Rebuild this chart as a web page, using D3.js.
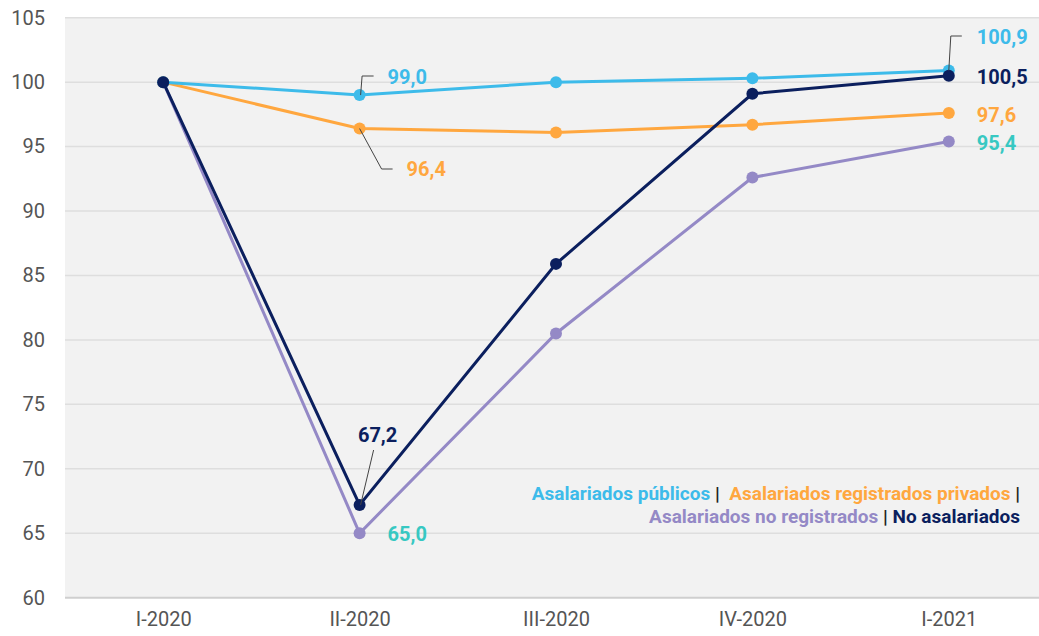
<!DOCTYPE html>
<html><head><meta charset="utf-8">
<script src="https://cdn.jsdelivr.net/npm/d3@7/dist/d3.min.js"></script>
<style>body{margin:0;background:#fff;font-family:Roboto,sans-serif}</style>
</head><body><svg id="c" width="1039" height="636"></svg>
<script>
const categories = ["I-2020","II-2020","III-2020","IV-2020","I-2021"];
const publicos = [100, 99.0, 100.0, 100.3, 100.9];
const privados = [100, 96.4, 96.1, 96.7, 97.6];
const noRegistrados = [100, 65.0, 80.5, 92.6, 95.4];
const noAsalariados = [100, 67.2, 85.9, 99.1, 100.5];
const yTicks = [60,65,70,75,80,85,90,95,100,105];

const series = [
  {name:"Asalariados no registrados", values:noRegistrados, color:"#9489c6"},
  {name:"Asalariados registrados privados", values:privados, color:"#ffa73f"},
  {name:"Asalariados públicos", values:publicos, color:"#3dbbea"},
  {name:"No asalariados", values:noAsalariados, color:"#0b1f5e"}
];

const svg = d3.select("#c");
const L=65, R=1047, T=17.7, B=597.7;
const x = d3.scalePoint().domain(categories).range([L,R]).padding(0.5);
const y = d3.scaleLinear().domain([60,105]).range([B,T]);

svg.append("rect").attr("x",L).attr("y",T).attr("width",R-L).attr("height",B-T).attr("fill","#f2f2f2");

// grid
svg.append("g").selectAll("line").data(yTicks.filter(d=>d>60)).join("line")
  .attr("x1",L).attr("x2",R).attr("y1",d=>y(d)).attr("y2",d=>y(d))
  .attr("stroke","#dedede").attr("stroke-width",1.5);
svg.append("line").attr("x1",L).attr("x2",R).attr("y1",y(60)).attr("y2",y(60))
  .attr("stroke","#cfcfcf").attr("stroke-width",2);

// y axis
const ya = svg.append("g").attr("transform",`translate(${L},0)`)
  .call(d3.axisLeft(y).tickValues(yTicks).tickSize(0).tickPadding(20));
ya.select(".domain").remove();
ya.selectAll("text").attr("font-family","Roboto").attr("font-size",20).attr("fill","#555");

// x axis
const xa = svg.append("g").attr("transform",`translate(0,${B})`)
  .call(d3.axisBottom(x).tickSize(0).tickPadding(14));
xa.select(".domain").remove();
xa.selectAll("text").attr("font-family","Roboto").attr("font-size",20).attr("fill","#555");

const line = d3.line().x((d,i)=>x(categories[i])).y(d=>y(d));
series.forEach(s=>{
  svg.append("path").datum(s.values).attr("d",line).attr("fill","none")
    .attr("stroke",s.color).attr("stroke-width",3);
  svg.append("g").selectAll("circle").data(s.values).join("circle")
    .attr("cx",(d,i)=>x(categories[i])).attr("cy",d=>y(d)).attr("r",6).attr("fill",s.color);
});

// labels
const fmt = v => d3.format(".1f")(v).replace(".",",");
const leader = (pts)=>svg.append("path").attr("d",d3.line()(pts)).attr("fill","none")
  .attr("stroke","#444").attr("stroke-width",1);
function label(v,tx,ty,color,anchor){
  svg.append("text").attr("x",tx).attr("y",ty).attr("dy","0.35em")
    .attr("text-anchor",anchor||"start").attr("font-family","Roboto").attr("font-weight","bold")
    .attr("font-size",20).attr("fill",color).text(fmt(v));
}
const x1=x(categories[1]), x4=x(categories[4]);
// 99,0
leader([[x1+1,y(publicos[1])],[x1+2.5,76],[x1+14,76]]);
label(publicos[1], x1+28, 77, "#3dbbea");
// 96,4
leader([[x1,y(privados[1])],[x1+22,169],[x1+33,169]]);
label(privados[1], x1+47, 169, "#ffa73f");
// 67,2
leader([[x1+1,y(noAsalariados[1])],[x1+14,450]]);
label(noAsalariados[1], x1+18, 435, "#0b1f5e", "middle");
// 65,0
label(noRegistrados[1], x1+28, 534, "#37c8c2");
// right side
leader([[x4,y(publicos[4])],[x4+2,36],[x4+13,36]]);
label(publicos[4], x4+28, 36.5, "#3dbbea");
label(noAsalariados[4], x4+28, 77, "#0b1f5e");
label(privados[4], x4+28, 115, "#ffa73f");
label(noRegistrados[4], x4+28, 143, "#37c8c2");

// legend
const legend = [
  [[ "Asalariados públicos", "#3dbbea"], [" |  ", "#222"], ["Asalariados registrados privados", "#ffa73f"], [" |", "#222"]],
  [[ "Asalariados no registrados", "#9489c6"], [" | ", "#222"], ["No asalariados", "#0b1f5e"]]
];
legend.forEach((row,i)=>{
  const t = svg.append("text").attr("x",1020).attr("y",493+i*23).attr("dy","0.35em")
    .attr("text-anchor","end").attr("font-family","Roboto").attr("font-weight","bold")
    .attr("font-size",19).attr("xml:space","preserve").style("white-space","pre");
  row.forEach(([s,c])=>t.append("tspan").attr("fill",c).text(s));
});
</script></body></html>
